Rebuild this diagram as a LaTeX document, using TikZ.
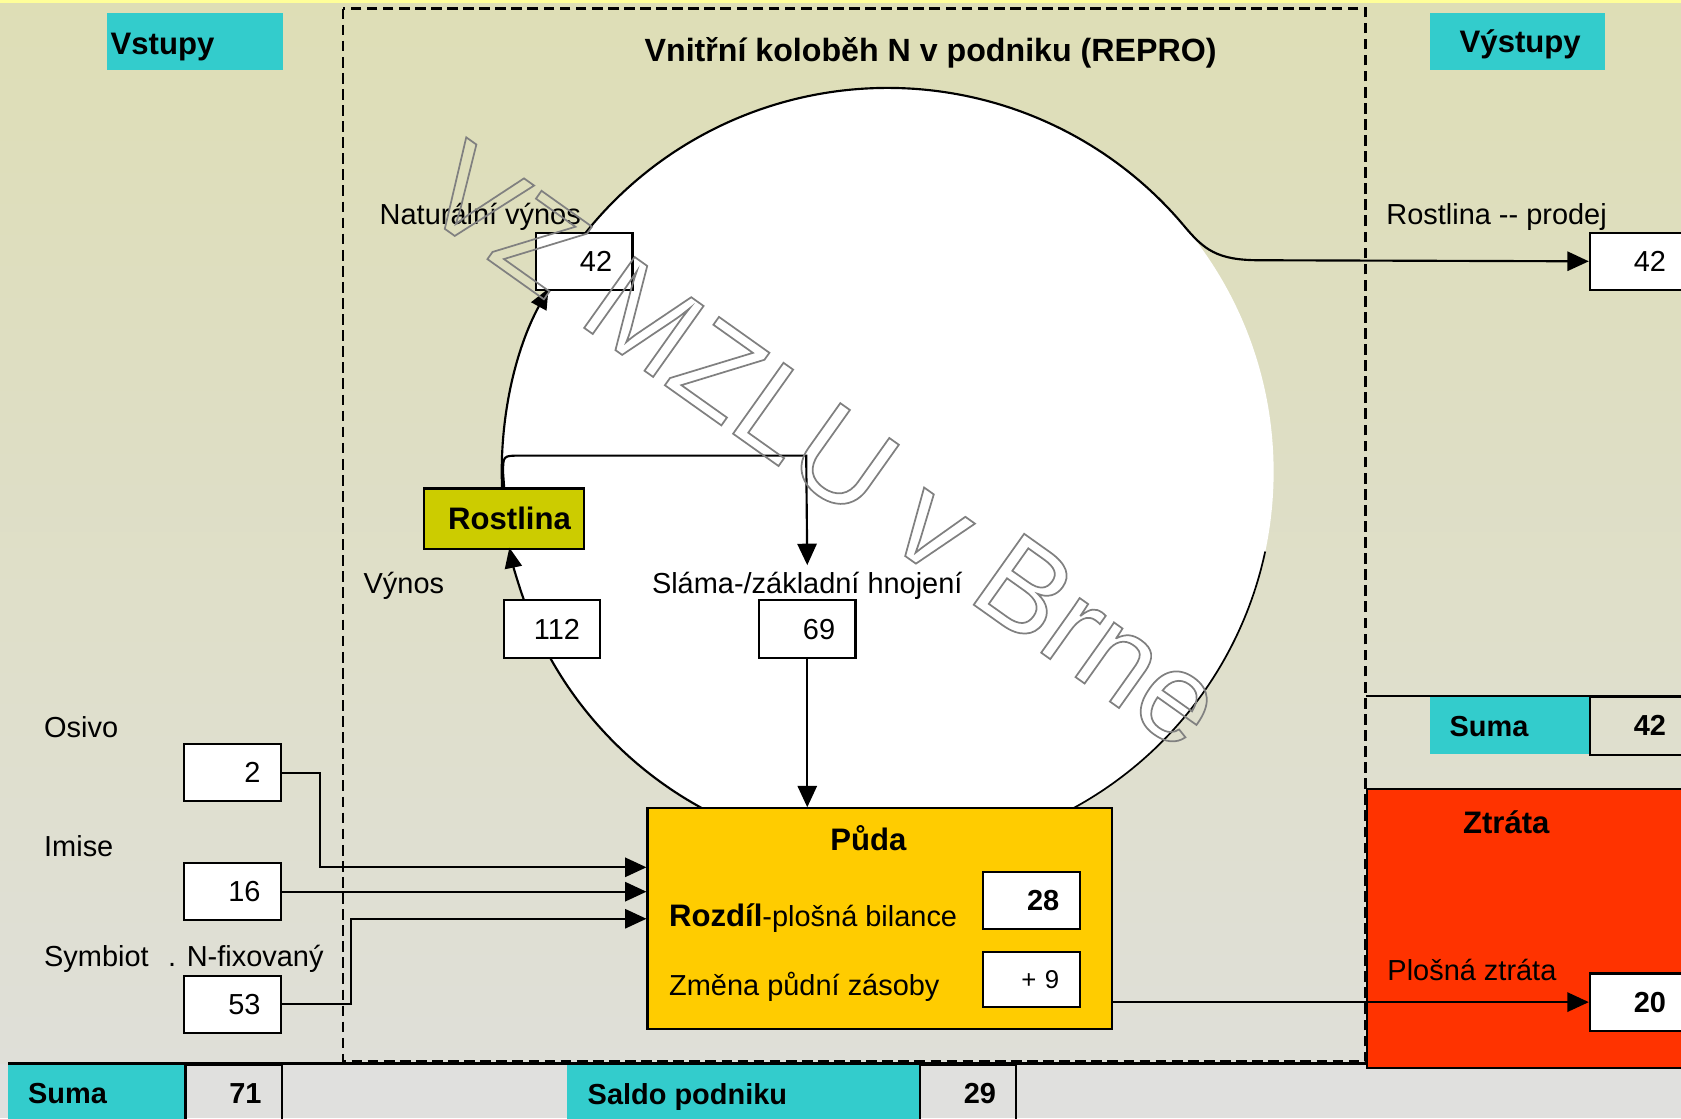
\documentclass[tikz,border=0pt]{standalone}
\usepackage{fontspec}
\setmainfont{Liberation Sans}
\usetikzlibrary{arrows.meta,calc}
\definecolor{cyanbox}{RGB}{51,204,204}
\definecolor{rostl}{RGB}{204,204,0}
\definecolor{pudac}{RGB}{255,204,0}
\definecolor{ztratac}{RGB}{255,51,0}
\definecolor{bgtop}{RGB}{222,222,182}
\definecolor{bgbot}{RGB}{223,223,216}
\definecolor{bgrow}{RGB}{224,224,222}
\definecolor{topstrip}{RGB}{255,255,153}
\definecolor{wmgray}{RGB}{128,128,128}
\newcommand{\outlinetext}[1]{\special{pdf:literal direct 1 Tr 1.6 w}#1\special{pdf:literal direct 0 Tr}}
\begin{document}
\begin{tikzpicture}[x=1pt,y=-1pt,
  lbl/.style={inner sep=0pt, font=\fontsize{27}{30}\selectfont, text height=19.3pt, text depth=0pt},
  lblb/.style={inner sep=0pt, font=\fontsize{27}{30}\selectfont\bfseries, text height=19.3pt, text depth=0pt},
  hdr/.style={inner sep=0pt, font=\fontsize{29}{32}\selectfont\bfseries, text height=20.8pt, text depth=0pt},
  numbox/.style={draw=black, line width=2pt, fill=white, minimum width=90pt, minimum height=53.5pt, inner sep=0pt, text width=52pt, align=right, font=\fontsize{27}{30}\selectfont, anchor=north west},
  numboxb/.style={numbox, font=\fontsize{27}{30}\selectfont\bfseries},
  cyanrect/.style={fill=cyanbox, draw=none, inner sep=0pt, anchor=north west},
  conn/.style={line width=2pt, -{Triangle[length=20pt,width=18pt]}},
  arcarr/.style={line width=2pt, -{Triangle[length=19pt,width=16pt]}},
  ell/.style={line width=2pt},
  frame/.style={line width=2.5pt, dash pattern=on 10pt off 5pt},
]
\useasboundingbox (0,0) rectangle (1568,1043);
% background
\shade[top color=bgtop, bottom color=bgbot] (0,0) rectangle (1568,992);
\fill[bgrow] (0,992) rectangle (1568,1043);
\fill[topstrip] (0,0) rectangle (1568,3);

% circle (cycle)
\coordinate (E) at (828,440);
\fill[white] (E) ellipse [x radius=360, y radius=358];
\draw[ell] ($(E)+(118:360 and 358)$) arc[start angle=118, end angle=160.6, x radius=360, y radius=358];
\draw[ell] ($(E)+(210:360 and 358)$) arc[start angle=210, end angle=320, x radius=360, y radius=358];
\draw[ell, line width=1.6pt] ($(E)+(12:360 and 358)$) arc[start angle=12, end angle=62, x radius=360, y radius=358];
\coordinate (A320) at ($(E)+(320:360 and 358)$);

% dashed frame of the enterprise
\draw[frame] (320,8) rectangle (1274,990);

% headers
\node[cyanrect, minimum width=164pt, minimum height=53pt] (vstupybox) at (100,12) {};
\node[hdr, anchor=west] (vstupy) at (103,40) {Vstupy};
\node[cyanrect, minimum width=163pt, minimum height=53pt] (vystupybox) at (1334,12) {};
\node[hdr] (vystupy) at (1418,39) {Výstupy};
\node[hdr, font=\fontsize{30}{33}\selectfont\bfseries] (title) at (868,47) {Vnitřní koloběh N v podniku (REPRO)};

% natural yield
\node[lbl, anchor=west] (natlbl) at (354,200) {Naturální výnos};
\node[numbox] (nat) at (499,216) {42};

% plant sale
\node[lbl, anchor=west] (prodlbl) at (1293,200) {Rostlina -{}- prodej};
\node[numbox] (out42) at (1482,216) {42};

% plant
\node[draw, line width=2pt, fill=rostl, minimum width=149.5pt, minimum height=56.4pt, anchor=north west, inner sep=0pt, font=\fontsize{29}{32}\selectfont\bfseries] (ros) at (394.5,454.6) {\hspace{10pt}Rostlina};
\node[lbl, anchor=west] (vynoslbl) at (339,544) {Výnos};
\node[numbox] (n112) at (469,559) {112};
\node[lbl] (slama) at (753,544) {Sláma-/základní hnojení};
\node[numbox] (n69) at (707,559) {69};

% inputs
\node[lbl, anchor=west] (osivo) at (41,678) {Osivo};
\node[numbox] (n2) at (171,693) {2};
\node[lbl, anchor=west] (imise) at (41,789) {Imise};
\node[numbox] (n16) at (171,804) {16};
\node[lbl, anchor=west] (symb) at (41,892) {Symbiot\hspace{18pt}. N-fixovaný};
\node[numbox] (n53) at (171,909) {53};

% soil
\node[draw, line width=2pt, fill=pudac, minimum width=433pt, minimum height=206pt, anchor=north west, inner sep=0pt] (puda) at (603,753) {};
\node[hdr] (pudalbl) at (810,783) {Půda};
\node[anchor=west, inner sep=0pt, text height=20.8pt, text depth=0pt] (rozdil) at (624,854) {{\fontsize{29}{32}\selectfont\bfseries Rozdíl}{\fontsize{27}{30}\selectfont -plošná bilance}};
\node[numboxb] (n28) at (916,812) {28};
\node[lbl, anchor=west] (zmena) at (624,919) {Změna půdní zásoby};
\node[numbox, font=\fontsize{24}{28}\selectfont, minimum height=51pt] (n9) at (916,887) {+ 9};

% loss
\node[draw, line width=2pt, fill=ztratac, minimum width=330pt, minimum height=260pt, anchor=north west, inner sep=0pt] (ztr) at (1274,735) {};
\node[hdr] (ztrlbl) at (1405,767) {Ztráta};
\node[lbl, anchor=west] (plosna) at (1294,905) {Plošná ztráta};
\node[numboxb] (n20) at (1482,907) {20};

% right sum
\node[cyanrect, minimum width=148pt, minimum height=54pt] (sumRbox) at (1334,649) {};
\node[lblb, anchor=west] (sumR) at (1352,677) {Suma};
\node[numboxb, fill=none, minimum height=54pt] (sum42) at (1482,649) {42};
\draw[line width=2pt] (1274,649) -- (1568,649);

% bottom row
\node[cyanrect, minimum width=164.5pt, minimum height=60pt] (sumLbox) at (7.5,992) {};
\node[lblb, anchor=west] (sumL) at (26,1020) {Suma};
\node[numboxb, fill=none] (s71) at (172,992) {71};
\node[cyanrect, minimum width=328pt, minimum height=60pt] (saldobox) at (529,992) {};
\node[lblb, anchor=west] (saldo) at (548,1021) {Saldo podniku};
\node[numboxb, fill=none] (s29) at (857,992) {29};
\draw[line width=2pt] (7.5,992) -- (1274,992);

% connectors
\draw[conn] (n2.east) -- ++(35.5,0) |- ([yshift=48pt]puda.west);
\draw[conn] (n16.east) -- (n16.east -| puda.west);
\draw[conn] (n53.east) -- ++(64.6,0) |- (puda.west);
\draw[conn] (n69.south) -- (n69.south |- puda.north);
\path (slama.north) ++(0,-7) coordinate (sltip0);
\coordinate (sltip) at (sltip0 -| n69.north);
\draw[conn] (ros.north) -- (469.25,441) .. controls (469.25,425) .. (485.25,425) -- (752,425) -- (sltip);
\draw[arcarr] ($(E)+(160.6:360 and 358)$) arc[start angle=160.6, end angle=168.6, x radius=360, y radius=358];
\draw[arcarr] ($(E)+(177.66:360 and 358)$) arc[start angle=177.66, end angle=208.5, x radius=360, y radius=358];
\draw[conn] (A320) .. controls (1123,233) and (1135,242.75) .. (1175,242.75) -- (out42.west);
\draw[conn] (n20.west -| puda.east) -- (n20.west);

% watermark
\node[inner sep=0pt, text height=84.5pt, text depth=0pt, rotate=-35.4, text=wmgray, font=\fontsize{118}{120}\selectfont] (wm) at (770,414) {\outlinetext{VZ MZLU v Brne}};
\end{tikzpicture}
\end{document}
